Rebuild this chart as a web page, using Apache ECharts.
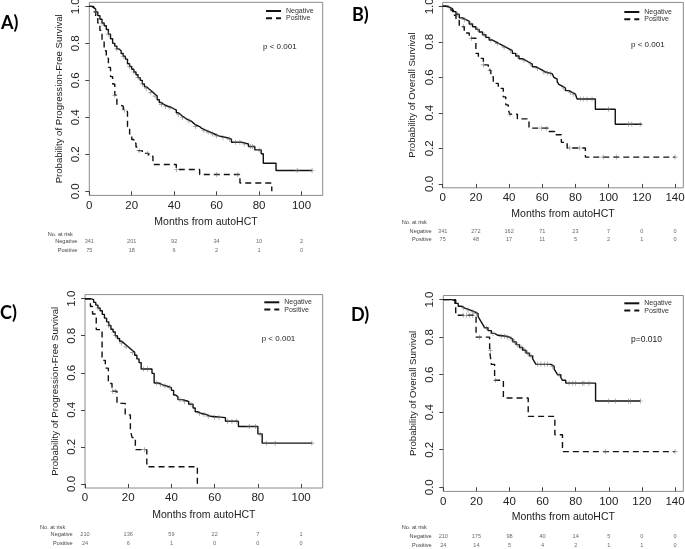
<!DOCTYPE html>
<html><head><meta charset="utf-8">
<script src="https://cdn.jsdelivr.net/npm/echarts@6/dist/echarts.min.js"></script>
<style>html,body{margin:0;padding:0;background:#fff}#c{width:685px;height:549px}</style>
</head><body><div id="c"></div>
<script>
// ---------- data ----------
const monthTicksShort = [0,20,40,60,80,100];
const monthTicksLong = [0,20,40,60,80,100,120,140];
const survTicks = [0,0.2,0.4,0.6,0.8,1.0];
const riskRows = ['Negative','Positive'];

// Panel A: PFS
const aNegT = [0,1,2,3,4,5,6,7,8,9,10,11,12,13,14,15,16,17,18,19,20,21,22,23,24,25,26,27,28,29,30,31,32,33,34,35,37,39,40,41,42,43,44,45,46,48,49,50,52,53,55,57,59,61,65,67,72,75,78,81,82,88,105];
const aNegS = [1,0.995,0.985,0.97,0.95,0.93,0.91,0.895,0.875,0.85,0.825,0.80,0.785,0.77,0.76,0.745,0.73,0.715,0.69,0.675,0.66,0.645,0.63,0.615,0.60,0.58,0.565,0.555,0.545,0.535,0.525,0.515,0.495,0.48,0.47,0.46,0.452,0.445,0.44,0.425,0.415,0.405,0.398,0.39,0.38,0.37,0.36,0.35,0.34,0.33,0.32,0.31,0.30,0.29,0.282,0.265,0.256,0.242,0.224,0.203,0.152,0.113,0.113];
const aNegC = [3,6,9,13,16,19,21,23,25,27,29,31,34,36,38,42,44,47,50,54,56,58,60,63,66,69,71,73,76,77,80,98,105];
const aPosT = [0,2,3,4,5,6,7,8,9,10,11,12,13,14,16,17,18,19,20,21,22,23,25,28,30,41,52,71,86];
const aPosS = [1,0.97,0.94,0.91,0.87,0.82,0.76,0.72,0.67,0.62,0.58,0.52,0.47,0.46,0.44,0.43,0.35,0.31,0.28,0.26,0.24,0.22,0.205,0.19,0.145,0.118,0.091,0.045,0];
const aPosC = [12,16.5,23.5,27.5,41,60,70];
const aRiskNeg = [341,201,92,34,10,2];
const aRiskPos = [75,18,6,2,1,0];

// Panel B: OS
const bNegT = [0,2,4,6,8,10,12,14,16,18,20,22,24,26,28,30,32,34,36,38,40,42,44,46,48,50,52,54,56,58,60,62,64,66,67,68,69,70,71,72,74,76,78,80,81,92,104,120];
const bNegS = [1,0.995,0.985,0.97,0.955,0.935,0.925,0.915,0.9,0.885,0.87,0.855,0.84,0.825,0.81,0.8,0.79,0.78,0.77,0.76,0.75,0.735,0.72,0.705,0.695,0.685,0.675,0.66,0.65,0.64,0.63,0.625,0.62,0.61,0.6,0.59,0.575,0.56,0.55,0.54,0.525,0.515,0.505,0.495,0.478,0.42,0.336,0.336];
const bNegC = [5,9,13,17,21,25,29,33,37,41,45,49,53,57,61,63,65,73,77,79,83,85,87,90,100,112,114,119];
const bPosT = [0,5,6.5,8,10,13,16,20,21.5,24.5,27.5,29,30.5,33.5,36.5,38,39.5,40.5,45,52,64,67.5,71.5,75,86,140];
const bPosS = [1,0.978,0.95,0.92,0.885,0.85,0.82,0.735,0.707,0.67,0.64,0.604,0.566,0.538,0.49,0.445,0.417,0.392,0.366,0.314,0.295,0.277,0.234,0.202,0.151,0.151];
const bPosC = [12.4,17.4,24.5,28.5,40.5,59.6,62.6,76.6,82.6,96.7,104.7,140];
const bRiskNeg = [341,272,162,71,23,7,0,0];
const bRiskPos = [75,48,17,11,5,2,1,0];

// Panel C: PFS
const cNegT = [0,2.5,4,5,6,7,8,9,10,11,12,13,14,15,16,17,18,19,20,21,22,23,24,25,26,31,32,34,36,38,40,41,42,43,45,48,50,51,52,54,56,58,65,71,80,82,105];
const cNegS = [1,0.995,0.98,0.965,0.95,0.935,0.915,0.895,0.875,0.855,0.835,0.82,0.80,0.785,0.77,0.76,0.75,0.74,0.73,0.72,0.71,0.695,0.675,0.655,0.62,0.597,0.545,0.535,0.528,0.52,0.505,0.48,0.47,0.455,0.445,0.43,0.41,0.39,0.38,0.375,0.365,0.358,0.338,0.31,0.27,0.22,0.22];
const cNegC = [6,11,14,17,19,22,27,29,33,35,37,39,44,46,49,53,55,57,60,62,66,68,70,76,79,81,84,88,105];
const cPosT = [0,2.5,3.5,5.2,7.9,9.4,10.8,12.5,14.8,18.6,21,21.8,23.3,28.6,52];
const cPosS = [1,0.958,0.917,0.833,0.667,0.625,0.542,0.50,0.435,0.373,0.29,0.25,0.185,0.093,0];
const cPosC = [12.8,14,27.5];
const cRiskNeg = [210,136,59,22,7,1];
const cRiskPos = [24,6,1,0,0,0];

// Panel D: OS
const dNegT = [0,5,7,9,11,13,16,19,21,22,23,24,25,27,29,31,33,38,40,42,44,46,48,50,52,54,55,56,65,67,68,69,71,72,74,92,119];
const dNegS = [1,0.995,0.98,0.965,0.955,0.945,0.935,0.925,0.91,0.895,0.88,0.865,0.85,0.835,0.82,0.81,0.805,0.80,0.79,0.775,0.76,0.745,0.73,0.715,0.70,0.685,0.67,0.655,0.645,0.63,0.615,0.60,0.585,0.57,0.555,0.46,0.46];
const dNegC = [12,15,18,20,26,30,35,37,39,41,43,45,47,49,51,53,57,59,61,63,66,70,76,78,80,84,85,88,100,104,112,113,119];
const dPosT = [0,7.5,19.8,28,29,31,36.3,51.3,67.4,72,140];
const dPosS = [1,0.917,0.80,0.73,0.655,0.57,0.476,0.378,0.28,0.19,0.19];
const dPosC = [12,14,16,17.5,22,28.5,31.5,98,140];
const dRiskNeg = [210,175,98,40,14,5,0,0];
const dRiskPos = [24,14,5,4,2,1,1,0];

// ---------- layout ----------
const FONT = 'Liberation Sans, Arial, sans-serif';
const panels = [
  {label:'A)', lx:1, ly:23, yName:'Probability of Progression-Free Survival', p:'p < 0.001', px:263, py:46.7, pfs:8,
   grid:{left:89.3, top:2.3, width:233.4, height:193.1}, xMax:110, ticks:monthTicksShort, nameGap:21.5, yNameGap:24.5,
   leg:{left:265, top:7.5}, risk:{top:237.6, height:17.4, noX:47.7, noY:234, margin:12},
   neg:[aNegT,aNegS,aNegC], pos:[aPosT,aPosS,aPosC], rn:aRiskNeg, rp:aRiskPos},
  {label:'B)', lx:352, ly:15, yName:'Probability of Overall Survival', p:'p < 0.001', px:631, py:45, pfs:8,
   grid:{left:442.7, top:2.4, width:240.6, height:185.4}, xMax:145, ticks:monthTicksLong, nameGap:20.5, yNameGap:25,
   leg:{left:623.3, top:8.5}, risk:{top:227, height:16, noX:401.7, noY:222.7, margin:11},
   neg:[bNegT,bNegS,bNegC], pos:[bPosT,bPosS,bPosC], rn:bRiskNeg, rp:bRiskPos},
  {label:'C)', lx:0, ly:313, yName:'Probability of Progression-Free Survival', p:'p < 0.001', px:261.7, py:339, pfs:8,
   grid:{left:85, top:294.6, width:237.7, height:193.4}, xMax:110, ticks:monthTicksShort, nameGap:21.5, yNameGap:25,
   leg:{left:263.3, top:298.8}, risk:{top:529.8, height:18, noX:40, noY:527, margin:12.3},
   neg:[cNegT,cNegS,cNegC], pos:[cPosT,cPosS,cPosC], rn:cRiskNeg, rp:cRiskPos},
  {label:'D)', lx:351, ly:315.5, yName:'Probability of Overall Survival', p:'p=0.010', px:631, py:340, pfs:8.5,
   grid:{left:443.3, top:295.5, width:240, height:195.9}, xMax:145, ticks:monthTicksLong, nameGap:20.5, yNameGap:25,
   leg:{left:623.3, top:299.8}, risk:{top:532, height:18.6, noX:401.7, noY:527.7, margin:11.6},
   neg:[dNegT,dNegS,dNegC], pos:[dPosT,dPosS,dPosC], rn:dRiskNeg, rp:dRiskPos}
];

function survAt(T, S, t) {
  let v = S[0];
  for (let i = 0; i < T.length; i++) { if (T[i] <= t) v = S[i]; }
  return v;
}
const PLUS = 'path://M-0.12,-1H0.12V-0.12H1V0.12H0.12V1H-0.12V0.12H-1V-0.12H-0.12Z';

const grid = [], xAxis = [], yAxis = [], series = [], legend = [], graphic = [];
panels.forEach((P) => {
  const gi = grid.length;
  grid.push(Object.assign({show:true, borderColor:'#8a8a8a', borderWidth:1, backgroundColor:'transparent', outerBoundsMode:'none', containLabel:false}, P.grid));
  const xi = xAxis.length, yi = yAxis.length;
  xAxis.push({type:'value', gridIndex:gi, min:0, max:P.xMax,
    name:'Months from autoHCT', nameLocation:'middle', nameGap:P.nameGap,
    nameTextStyle:{fontFamily:FONT, fontSize:10.5, color:'#222'},
    axisLine:{show:false}, splitLine:{show:false},
    axisTick:{show:true, length:4, customValues:P.ticks, lineStyle:{color:'#444', width:1}},
    axisLabel:{customValues:P.ticks, fontFamily:FONT, fontSize:11.5, color:'#222', margin:4}});
  yAxis.push({type:'value', gridIndex:gi, min:-0.022, max:1.022,
    name:P.yName, nameLocation:'middle', nameGap:P.yNameGap,
    nameTextStyle:{fontFamily:FONT, fontSize:9.6, color:'#222'},
    axisLine:{show:false}, splitLine:{show:false},
    axisTick:{show:true, length:4, customValues:survTicks, lineStyle:{color:'#444', width:1}},
    axisLabel:{customValues:survTicks, rotate:90, formatter:v => v.toFixed(1), fontFamily:FONT, fontSize:11.5, color:'#222', margin:7}});

  const mk = (arr, name, dash) => {
    const [T, S, C] = arr;
    series.push({type:'line', name:name, xAxisIndex:xi, yAxisIndex:yi, step:'end', symbol:'none',
      lineStyle:{color:'#111', width:1.4, type:dash ? [6,4] : 'solid'}, itemStyle:{color:'#111'},
      data:T.map((t, k) => [t, S[k]]), z:3, silent:true});
    series.push({type:'scatter', name:name + ' censored', xAxisIndex:xi, yAxisIndex:yi, symbol:PLUS, symbolSize:5,
      itemStyle:{color:'#666'}, data:C.map(t => [t, survAt(T, S, t)]), z:4, silent:true});
  };
  mk(P.neg, 'Negative', false);
  mk(P.pos, 'Positive', true);

  legend.push({data:['Negative','Positive'], orient:'vertical', left:P.leg.left, top:P.leg.top, padding:0,
    itemWidth:15, itemHeight:7, itemGap:0.3, selectedMode:false,
    itemStyle:{opacity:0},
    textStyle:{fontFamily:FONT, fontSize:7, color:'#333', lineHeight:7}});

  // risk table grid
  const rg = grid.length;
  grid.push({left:P.grid.left, width:P.grid.width, top:P.risk.top, height:P.risk.height, show:false, outerBoundsMode:'none', containLabel:false});
  const rx = xAxis.length, ry = yAxis.length;
  xAxis.push({type:'value', gridIndex:rg, min:0, max:P.xMax, show:false});
  yAxis.push({type:'category', gridIndex:rg, data:riskRows, inverse:true,
    axisLine:{show:false}, axisTick:{show:false}, splitLine:{show:false},
    axisLabel:{fontFamily:FONT, fontSize:5.6, color:'#444', margin:P.risk.margin}});
  [[P.rn, 0], [P.rp, 1]].forEach(([vals, row]) => {
    series.push({type:'scatter', name:'risk', xAxisIndex:rx, yAxisIndex:ry, symbolSize:1,
      itemStyle:{color:'rgba(0,0,0,0)'}, silent:true,
      label:{show:true, position:'inside', formatter:p => String(p.value[2]), fontFamily:FONT, fontSize:5.6, color:'#444'},
      data:P.ticks.map((t, k) => [t, row, vals[k]])});
  });

  graphic.push({type:'text', x:P.lx, y:P.ly, style:{text:P.label, font:'bold 18px Lato, sans-serif', fill:'#000', textVerticalAlign:'middle', verticalAlign:'middle'}});
  graphic.push({type:'text', x:P.px, y:P.py, style:{text:P.p, font:P.pfs + 'px ' + FONT, fill:'#222', textVerticalAlign:'middle', verticalAlign:'middle'}});
  graphic.push({type:'text', x:P.risk.noX, y:P.risk.noY, style:{text:'No. at risk', font:'5.6px ' + FONT, fill:'#444', textVerticalAlign:'middle', verticalAlign:'middle'}});
});

const chart = echarts.init(document.getElementById('c'), null, {renderer:'canvas'});
chart.setOption({animation:false, backgroundColor:'#fff', grid, xAxis, yAxis, series, legend, graphic});
</script></body></html>
